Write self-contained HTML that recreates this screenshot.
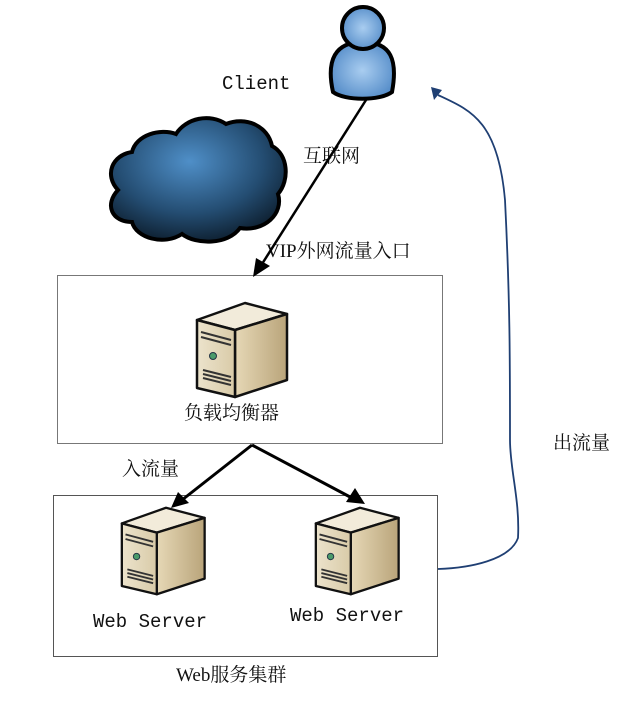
<!DOCTYPE html>
<html><head><meta charset="utf-8"><style>
body{margin:0;background:#fff;width:640px;height:699px;overflow:hidden}
text{font-family:"Liberation Serif","Noto Serif CJK SC",serif;font-size:19px;fill:#111}
.m{font-family:"Liberation Mono","Noto Serif CJK SC",monospace}
</style></head><body>
<svg width="640" height="699" viewBox="0 0 640 699" xmlns="http://www.w3.org/2000/svg">
<defs>
<radialGradient id="pg" cx="0.5" cy="0.5" r="0.6"><stop offset="0" stop-color="#a9cdf0"/><stop offset="1" stop-color="#4f88c6"/></radialGradient>
<radialGradient id="cg" cx="0.45" cy="0.35" r="0.7"><stop offset="0" stop-color="#4f8fc8"/><stop offset="0.6" stop-color="#244d72"/><stop offset="1" stop-color="#0b1a28"/></radialGradient>
<linearGradient id="fg" x1="0" x2="1"><stop offset="0" stop-color="#ece3cc"/><stop offset="1" stop-color="#d9cba8"/></linearGradient>
<linearGradient id="sg" x1="0" x2="1"><stop offset="0" stop-color="#e6d8b6"/><stop offset="1" stop-color="#b9a47a"/></linearGradient>
<g id="srv">
<polygon points="2,20 50,3 92,14 40,30" fill="#f2ebda" stroke="#111" stroke-width="2.5" stroke-linejoin="round"/>
<polygon points="40,30 92,14 92,80 40,97" fill="url(#sg)" stroke="#111" stroke-width="2.5" stroke-linejoin="round"/>
<polygon points="2,20 40,30 40,97 2,88" fill="url(#fg)" stroke="#111" stroke-width="2.5" stroke-linejoin="round"/>
<path d="M6,32 L36,40 M6,37 L36,45 M8,70 L36,77 M8,74 L36,81 M8,78 L36,85" stroke="#333" stroke-width="2"/>
<circle cx="18" cy="56" r="3.5" fill="#4a9a6a" stroke="#234" stroke-width="1"/>
</g>
</defs>
<!-- person -->
<path d="M333,92 C326,60 335,42 363,42 C391,42 398,60 392,92 C380,101 345,101 333,92 Z" fill="url(#pg)" stroke="#000" stroke-width="4"/>
<circle cx="363" cy="28" r="21" fill="url(#pg)" stroke="#000" stroke-width="4"/>
<!-- cloud -->
<path d="M118,190 C104,175 112,155 132,152 C136,135 160,128 176,134 C186,118 210,113 226,124 C246,116 268,126 272,146 C288,154 290,180 278,194 C284,214 264,232 240,228 C228,245 196,245 182,234 C164,246 136,238 132,222 C112,222 104,205 118,190 Z" fill="url(#cg)" stroke="#000" stroke-width="4"/>
<text x="222" y="89" class="m">Client</text>
<text x="303" y="162">互联网</text>
<text x="266" y="257">VIP外网流量入口</text>
<!-- boxes -->
<rect x="57.5" y="275.5" width="385" height="168" fill="none" stroke="#777" stroke-width="1"/>
<rect x="53.5" y="495.5" width="384" height="161" fill="none" stroke="#555" stroke-width="1"/>
<use href="#srv" x="195" y="300"/>
<use href="#srv" x="120" y="505" transform="translate(120,505) scale(0.92) translate(-120,-505)"/>
<use href="#srv" x="314" y="505" transform="translate(314,505) scale(0.92) translate(-314,-505)"/>
<text x="184" y="419">负载均衡器</text>
<text x="122" y="475">入流量</text>
<text x="93" y="627" class="m">Web Server</text>
<text x="290" y="621" class="m">Web Server</text>
<text x="176" y="681">Web服务集群</text>
<text x="553" y="449">出流量</text>
<!-- arrows -->
<line x1="366" y1="100" x2="262" y2="264" stroke="#000" stroke-width="2.5"/>
<polygon points="253,277 256,258 270,266" fill="#000"/>
<path d="M252,445 L182,500 M252,445 L352,498" stroke="#000" stroke-width="3" fill="none"/>
<polygon points="171,508 178,492 189,503" fill="#000"/>
<polygon points="365,504 346,502 355,488" fill="#000"/>
<path d="M438,569 C470,568 510,560 518,538 C520,500 510,470 510,440 C510,360 510,300 505,200 C498,120 470,110 438,95" stroke="#1f3f73" stroke-width="1.8" fill="none"/>
<polygon points="431,87 442,90 434,100" fill="#1f3f73"/>
</svg>
</body></html>
